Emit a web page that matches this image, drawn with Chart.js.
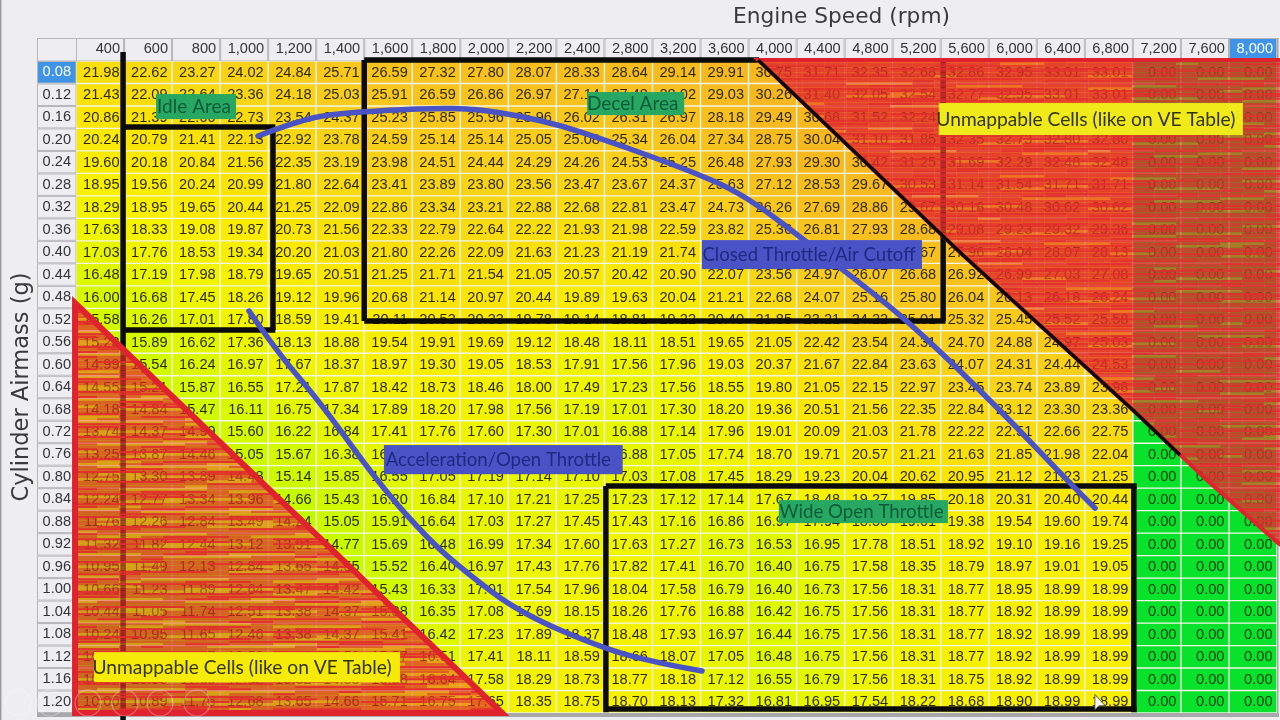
<!DOCTYPE html>
<html><head><meta charset="utf-8">
<style>html,body{margin:0;padding:0;background:#eeeef0;overflow:hidden}canvas{display:block;filter:blur(.55px)}</style>
<script src="https://cdn.jsdelivr.net/npm/chart.js@4"></script></head>
<body><canvas id="c" width="1280" height="720"></canvas>
<script>
const rpmLabels=["400","600","800","1,000","1,200","1,400","1,600","1,800","2,000","2,200","2,400","2,800","3,200","3,600","4,000","4,400","4,800","5,200","5,600","6,000","6,400","6,800","7,200","7,600","8,000"];
const airmass=[0.08,0.12,0.16,0.20,0.24,0.28,0.32,0.36,0.40,0.44,0.48,0.52,0.56,0.60,0.64,0.68,0.72,0.76,0.80,0.84,0.88,0.92,0.96,1.00,1.04,1.08,1.12,1.16,1.20];
const afr=[
[21.98,22.62,23.27,24.02,24.84,25.71,26.59,27.32,27.80,28.07,28.33,28.64,29.14,29.91,30.75,31.71,32.35,32.68,32.86,32.95,33.01,33.01,0,0,0],
[21.43,22.09,22.64,23.36,24.18,25.03,25.91,26.59,26.86,26.97,27.14,27.48,28.02,29.03,30.26,31.40,32.05,32.54,32.77,32.95,33.01,33.01,0,0,0],
[20.86,21.39,22.00,22.73,23.54,24.37,25.23,25.85,25.96,25.96,26.02,26.31,26.97,28.18,29.49,30.68,31.52,32.24,32.55,32.86,32.95,32.95,0,0,0],
[20.24,20.79,21.41,22.13,22.92,23.78,24.59,25.14,25.14,25.05,25.08,25.34,26.04,27.34,28.75,30.04,31.10,31.85,32.35,32.73,32.80,32.80,0,0,0],
[19.60,20.18,20.84,21.56,22.35,23.19,23.98,24.51,24.44,24.29,24.26,24.53,25.25,26.48,27.93,29.30,30.42,31.25,31.69,32.29,32.48,32.48,0,0,0],
[18.95,19.56,20.24,20.99,21.80,22.64,23.41,23.89,23.80,23.56,23.47,23.67,24.37,25.63,27.12,28.53,29.67,30.53,31.14,31.54,31.71,31.71,0,0,0],
[18.29,18.95,19.65,20.44,21.25,22.09,22.86,23.34,23.21,22.88,22.68,22.81,23.47,24.73,26.26,27.69,28.86,29.67,30.18,30.48,30.62,30.62,0,0,0],
[17.63,18.33,19.08,19.87,20.73,21.56,22.33,22.79,22.64,22.22,21.93,21.98,22.59,23.82,25.36,26.81,27.93,28.68,29.08,29.23,29.32,29.36,0,0,0],
[17.03,17.76,18.53,19.34,20.20,21.03,21.80,22.26,22.09,21.63,21.23,21.19,21.74,22.96,24.50,25.90,27.00,27.67,27.96,28.04,28.07,28.13,0,0,0],
[16.48,17.19,17.98,18.79,19.65,20.51,21.25,21.71,21.54,21.05,20.57,20.42,20.90,22.07,23.56,24.97,26.07,26.68,26.92,26.99,27.03,27.08,0,0,0],
[16.00,16.68,17.45,18.26,19.12,19.96,20.68,21.14,20.97,20.44,19.89,19.63,20.04,21.21,22.68,24.07,25.16,25.80,26.04,26.13,26.18,26.24,0,0,0],
[15.58,16.26,17.01,17.80,18.59,19.41,20.11,20.53,20.33,19.78,19.14,18.81,19.22,20.40,21.85,23.21,24.22,25.01,25.32,25.45,25.52,25.58,0,0,0],
[15.23,15.89,16.62,17.36,18.13,18.88,19.54,19.91,19.69,19.12,18.48,18.11,18.51,19.65,21.05,22.42,23.54,24.31,24.70,24.88,24.97,25.03,0,0,0],
[14.99,15.54,16.24,16.97,17.67,18.37,18.97,19.30,19.05,18.53,17.91,17.56,17.96,19.03,20.37,21.67,22.84,23.63,24.07,24.31,24.44,24.53,0,0,0],
[14.55,15.21,15.87,16.55,17.21,17.87,18.42,18.73,18.46,18.00,17.49,17.23,17.56,18.55,19.80,21.05,22.15,22.97,23.45,23.74,23.89,23.98,0,0,0],
[14.18,14.84,15.47,16.11,16.75,17.34,17.89,18.20,17.98,17.56,17.19,17.01,17.30,18.20,19.36,20.51,21.56,22.35,22.84,23.12,23.30,23.36,0,0,0],
[13.74,14.37,14.99,15.60,16.22,16.84,17.41,17.76,17.60,17.30,17.01,16.88,17.14,17.96,19.01,20.09,21.03,21.78,22.22,22.51,22.66,22.75,0,0,0],
[13.25,13.87,14.46,15.05,15.67,16.38,16.95,17.40,17.42,17.15,16.95,16.88,17.05,17.74,18.70,19.71,20.57,21.21,21.63,21.85,21.98,22.04,0,0,0],
[12.75,13.30,13.89,14.48,15.14,15.85,16.55,17.05,17.19,17.14,17.10,17.03,17.08,17.45,18.29,19.23,20.04,20.62,20.95,21.12,21.23,21.25,0,0,0],
[12.24,12.77,13.34,13.96,14.66,15.43,16.20,16.84,17.10,17.21,17.25,17.23,17.12,17.14,17.67,18.48,19.27,19.85,20.18,20.31,20.40,20.44,0,0,0],
[11.76,12.26,12.84,13.49,14.24,15.05,15.91,16.64,17.03,17.27,17.45,17.43,17.16,16.86,16.97,17.94,18.55,19.01,19.38,19.54,19.60,19.74,0,0,0],
[11.32,11.82,12.44,13.12,13.91,14.77,15.69,16.48,16.99,17.34,17.60,17.63,17.27,16.73,16.53,16.95,17.78,18.51,18.92,19.10,19.16,19.25,0,0,0],
[10.95,11.49,12.13,12.84,13.65,14.55,15.52,16.40,16.97,17.43,17.76,17.82,17.41,16.70,16.40,16.75,17.58,18.35,18.79,18.97,19.01,19.05,0,0,0],
[10.66,11.23,11.89,12.64,13.47,14.42,15.43,16.33,17.01,17.54,17.96,18.04,17.58,16.79,16.40,16.73,17.56,18.31,18.77,18.95,18.99,18.99,0,0,0],
[10.44,11.05,11.74,12.51,13.38,14.37,15.38,16.35,17.08,17.69,18.15,18.26,17.76,16.88,16.42,16.75,17.56,18.31,18.77,18.92,18.99,18.99,0,0,0],
[10.24,10.95,11.65,12.46,13.38,14.37,15.41,16.42,17.23,17.89,18.37,18.48,17.93,16.97,16.44,16.75,17.56,18.31,18.77,18.92,18.99,18.99,0,0,0],
[10.15,10.95,11.67,12.50,13.43,14.50,15.57,16.51,17.41,18.11,18.59,18.66,18.07,17.05,16.48,16.75,17.56,18.31,18.77,18.92,18.99,18.99,0,0,0],
[10.07,10.90,11.69,12.52,13.52,14.55,15.58,16.64,17.58,18.29,18.73,18.77,18.18,17.12,16.55,16.79,17.56,18.31,18.75,18.92,18.99,18.99,0,0,0],
[10.00,10.89,11.76,12.68,13.65,14.66,15.71,16.75,17.65,18.35,18.75,18.70,18.13,17.32,16.81,16.95,17.54,18.22,18.68,18.90,18.99,18.99,0,0,0]
];
const rampStops=[0,10,14,16,17.5,19,21,23,25,27,30];
const rampColors=[[8,226,43],[150,250,0],[190,250,0],[215,249,0],[238,245,0],[248,240,0],[250,228,6],[247,216,20],[248,204,28],[247,194,30],[246,184,32]];
function cellColor(v){
  if(v<=0)return 'rgb(8,226,43)';
  let i=1;while(i<rampStops.length-1&&v>rampStops[i])i++;
  const t=Math.min(1,(v-rampStops[i-1])/(rampStops[i]-rampStops[i-1]));
  const a=rampColors[i-1],b=rampColors[i];
  return `rgb(${a.map((c,k)=>Math.round(c+(b[k]-c)*t)).join(',')})`;
}
const halfStep=0.02;

// annotation geometry in data units: [rpm column index, airmass]
const blackLines=[
 [[0.48,0.044],[0.48,1.235]],
 [[0.48,0.1775],[3.65,0.1775]],
 [[3.6,0.1775],[3.6,0.5387]],
 [[0.48,0.5387],[3.65,0.5387]],
 [[5.5,0.0583],[13.72,0.0583]],
 [[5.5,0.0583],[5.5,0.5227]],
 [[5.5,0.5227],[17.6,0.5227]],
 [[17.55,0.0583],[17.55,0.5227]],
 [[10.53,0.8163],[21.58,0.8163]],
 [[10.53,0.8163],[10.53,1.2185]],
 [[10.53,1.2131],[21.58,1.2131]],
 [[21.52,0.8163],[21.52,1.2185]]
];
const blackDiagonal=[[13.70,0.0583],[17.96,0.405],[21.5,0.681],[22.48,0.761]];
const redTopRight=[[13.70,0.0583],[24.7,0.0583],[24.7,0.928],[24.52,0.9174],[23.04,0.8056],[21.5,0.681],[17.96,0.405]];
const redBottomLeft=[[-0.52,0.4907],[-0.52,1.2198],[8.37,1.2198]];
const blueCurves=[
 [[3.289,0.1935],[4.163,0.1651],[4.996,0.1526],[6.869,0.1437],[7.848,0.1455],[8.743,0.1579],[9.638,0.1757],[10.512,0.2006],[11.386,0.2273],[12.281,0.2558],[13.114,0.286],[13.842,0.3252],[14.571,0.3732],[15.612,0.4409],[16.923,0.5298],[18.734,0.6811],[20.129,0.8056],[20.712,0.8555]],
 [[3.102,0.5049],[3.684,0.5778],[4.58,0.6668],[5.828,0.8144],[6.869,0.9141],[7.639,0.971],[8.743,1.0422],[10.554,1.108],[11.657,1.1312],[12.531,1.1454]]
];
const labelBoxes=[
 {text:"Idle Area",x:[1.166,2.831],y:[0.1188,0.1633],bg:"#27a862",fg:"#0f5a38",size:19,dx:-2},
 {text:"Decel Area",x:[10.14,12.16],y:[0.1152,0.1562],bg:"#27a862",fg:"#0f5a38",size:19,dx:-3},
 {text:"Closed Throttle/Air Cutoff",x:[12.53,17.11],y:[0.3786,0.4302],bg:"#4a53c6",fg:"#1d2a82",size:18.6,dx:-3},
 {text:"Acceleration/Open Throttle",x:[5.91,10.88],y:[0.7433,0.7951],bg:"#4a53c6",fg:"#1d2a82",size:18.6,dx:-5},
 {text:"Wide Open Throttle",x:[14.13,17.65],y:[0.8412,0.8821],bg:"#27a862",fg:"#0f5a38",size:18.7,dx:-2},
 {text:"Unmappable Cells (like on VE Table)",x:[17.46,23.79],y:[0.1348,0.1917],bg:"#f0ea1a",fg:"#33330a",size:19.2,dx:-5},
 {text:"Unmappable Cells (like on VE Table)",x:[-0.125,6.245],y:[1.1117,1.165],bg:"#f5ea08",fg:"#33330a",size:19.2,dx:-5}
];
const playerButtons=[18,50,88,125,160,197];

function texture(ctx,area,orange){
  for(let py=area.top;py<area.bottom;py+=2.5){
    for(let px=area.left;px<area.right;px+=22){
      const s=Math.sin(py*0.83+px*0.013)*Math.cos(py*0.27+px*0.021)+Math.sin(py*2.1-px*0.04)*0.4;
      let col='226,44,44',a=orange?0.74:0.86;
      if(s>0.4&&orange){col='238,112,36';a=0.66;}
      else if(s>0.75){col='236,84,40';a=0.7;}
      else if(s<-0.35){a=0.97;}
      ctx.fillStyle=`rgba(${col},${a})`;
      ctx.fillRect(px,py,22,2.5);
    }
  }
}

const tablePlugin={
 id:'tablePlugin',
 afterLayout(chart){
   const t=chart.titleBlock;t.left=733;t.right=950;
 },
 beforeDraw(chart){
   const {ctx,scales:{x,y},chartArea:a}=chart;
   ctx.save();
   ctx.fillStyle='#eeeef0';ctx.fillRect(0,0,1280,720);
   ctx.fillStyle='#9d9d9f';ctx.fillRect(0,0,1.5,720);
   ctx.fillStyle='#a8a8aa';ctx.fillRect(37,a.bottom,a.right-37+2,4);ctx.fillRect(a.right,38,1.5,a.bottom-38);
   const hw=(a.right-a.left)/rpmLabels.length,rh=(a.bottom-a.top)/airmass.length;
   ctx.lineWidth=1;
   ctx.fillStyle='#eeeef2';ctx.strokeStyle='#b6b6ba';
   ctx.fillRect(37,38,a.left-37,23);ctx.strokeRect(37.5,38.5,a.left-37,22.5);
   rpmLabels.forEach((l,i)=>{
     const cx=x.getPixelForValue(i);
     ctx.fillStyle=i===rpmLabels.length-1?'#3f94e8':'#eeeef2';
     ctx.fillRect(cx-hw/2,38,hw,23);ctx.strokeRect(cx-hw/2+.5,38.5,hw-1,22.5);
   });
   airmass.forEach((m,i)=>{
     const cy=y.getPixelForValue(m);
     ctx.fillStyle=i===0?'#3f94e8':'#eeeef2';
     ctx.fillRect(37,cy-rh/2,a.left-37,rh);ctx.strokeRect(37.5,cy-rh/2+.5,a.left-37.5,rh-1);
   });
   ctx.restore();
   // right-align the engine-speed tick labels in their header cells
   x.getLabelItems().forEach((it,i)=>{
     it.options.textAlign='right';
     it.options.translation[0]=x.getPixelForValue(i)+hw/2-4;
   });
 },
 afterDatasetsDraw(chart){
   const {ctx,scales:{x,y}}=chart;
   const X=v=>x.getPixelForValue(v),Y=v=>y.getPixelForValue(v),P=p=>[X(p[0]),Y(p[1])];
   const hw=X(1)-X(0);
   ctx.save();
   ctx.font='14.6px "Liberation Sans"';ctx.textAlign='right';ctx.textBaseline='middle';
   afr.forEach((row,r)=>row.forEach((v,c)=>{
     ctx.fillStyle=v===0?'#03420f':'#2e2a06';
     ctx.fillText(v.toFixed(2),X(c)+hw/2-4.5,Y(airmass[r])+.5);
   }));
   // black outlines
   ctx.strokeStyle='#0b0b0b';ctx.lineWidth=5.5;ctx.lineCap='butt';
   blackLines.forEach(l=>{ctx.beginPath();ctx.moveTo(...P(l[0]));ctx.lineTo(...P(l[1]));ctx.stroke();});
   // painted-over regions
   [[redTopRight,false],[redBottomLeft,true]].forEach(([poly,orange])=>{
     const pts=poly.map(P);
     const xs=pts.map(p=>p[0]),ys=pts.map(p=>p[1]);
     ctx.save();ctx.beginPath();pts.forEach((p,i)=>i?ctx.lineTo(...p):ctx.moveTo(...p));ctx.closePath();ctx.clip();
     texture(ctx,{left:Math.min(...xs),right:Math.max(...xs),top:Math.min(...ys),bottom:Math.max(...ys)},orange);
     ctx.restore();
     ctx.strokeStyle='#e0222f';ctx.lineWidth=orange?6:4;ctx.lineJoin='miter';
     ctx.beginPath();pts.forEach((p,i)=>i?ctx.lineTo(...p):ctx.moveTo(...p));ctx.closePath();ctx.stroke();
   });
   // black edge along the upper red region
   ctx.strokeStyle='#0b0b0b';ctx.lineWidth=3.5;ctx.lineJoin='round';
   ctx.beginPath();blackDiagonal.map(P).forEach((p,i)=>i?ctx.lineTo(...p):ctx.moveTo(...p));ctx.stroke();
   // blue curves
   ctx.strokeStyle='#4a53c6';ctx.lineWidth=5.5;ctx.lineCap='round';ctx.lineJoin='round';
   blueCurves.forEach(c=>{
     const pts=c.map(P);
     ctx.beginPath();ctx.moveTo(...pts[0]);
     for(let i=1;i<pts.length-1;i++){
       const mx=(pts[i][0]+pts[i+1][0])/2,my=(pts[i][1]+pts[i+1][1])/2;
       ctx.quadraticCurveTo(pts[i][0],pts[i][1],mx,my);
     }
     ctx.lineTo(...pts[pts.length-1]);ctx.stroke();
   });
   // callout labels
   ctx.textAlign='center';
   labelBoxes.forEach(b=>{
     const x0=X(b.x[0]),x1=X(b.x[1]),y0=Y(b.y[0]),y1=Y(b.y[1]);
     ctx.fillStyle=b.bg;ctx.fillRect(x0,y0,x1-x0,y1-y0);
     ctx.fillStyle=b.fg;ctx.font=b.size+'px "Lato"';
     ctx.fillText(b.text,(x0+x1)/2+b.dx,(y0+y1)/2+.5);
   });
   // video-player overlay and mouse pointer of the screen capture
   ctx.strokeStyle='rgba(255,255,255,.3)';ctx.lineWidth=1.2;
   playerButtons.forEach(px=>{ctx.beginPath();ctx.arc(px,703,13,0,Math.PI*2);ctx.stroke();});
   const cy=Y(1.2)-7,cx=X(21)+hw/2-38;
   ctx.fillStyle='#f4f4f4';ctx.strokeStyle='#444';ctx.lineWidth=.8;
   ctx.beginPath();ctx.moveTo(cx,cy);ctx.lineTo(cx,cy+15);ctx.lineTo(cx+4,cy+11);ctx.lineTo(cx+10,cy+11);ctx.closePath();ctx.fill();ctx.stroke();
   ctx.restore();
 }
};

new Chart(document.getElementById('c'),{
 type:'bar',
 plugins:[tablePlugin],
 data:{
  labels:rpmLabels,
  datasets:airmass.map((m,r)=>({
    label:m.toFixed(2),
    data:rpmLabels.map(()=>[m-halfStep,m+halfStep]),
    backgroundColor:afr[r].map(cellColor),
    borderColor:'rgba(250,250,225,.5)',
    borderWidth:1,borderSkipped:false,
    barPercentage:1,categoryPercentage:1,grouped:false
  }))
 },
 options:{
  responsive:false,animation:false,devicePixelRatio:1,
  layout:{padding:{left:0,right:3,top:0,bottom:7}},
  plugins:{
   legend:{display:false},tooltip:{enabled:false},
   title:{display:true,text:'Engine Speed (rpm)',align:'center',color:'#3a3a3a',
     font:{family:'"DejaVu Sans"',size:22,weight:'normal',lineHeight:1.2},padding:{top:4,bottom:7.6}}
  },
  scales:{
   x:{type:'category',position:'top',offset:true,
     grid:{display:false,drawTicks:false},border:{display:false},
     afterFit(s){s.height=23;s.paddingLeft=0;s.paddingRight=0;},
     ticks:{autoSkip:false,maxRotation:0,minRotation:0,padding:3,
       color:c=>c.index===rpmLabels.length-1?'#ffffff':'#333338',
       font:{family:'"Liberation Sans"',size:14.6}}},
   y:{type:'linear',reverse:true,min:airmass[0]-halfStep,max:airmass[airmass.length-1]+halfStep,
     grid:{display:false,drawTicks:false},border:{display:false},
     afterBuildTicks(s){s.ticks=airmass.map(v=>({value:v}));},
     afterFit(s){s.width=76;s.paddingTop=0;s.paddingBottom=0;},
     title:{display:true,text:'Cylinder Airmass (g)',color:'#3a3a3a',
       font:{family:'"DejaVu Sans"',size:22.5,weight:'normal'},padding:{top:9,bottom:0}},
     ticks:{autoSkip:false,padding:5,callback:v=>v.toFixed(2),
       color:c=>c.index===0?'#ffffff':'#333338',
       font:{family:'"Liberation Sans"',size:14.6}}}
  }
 }
});
</script></body></html>
